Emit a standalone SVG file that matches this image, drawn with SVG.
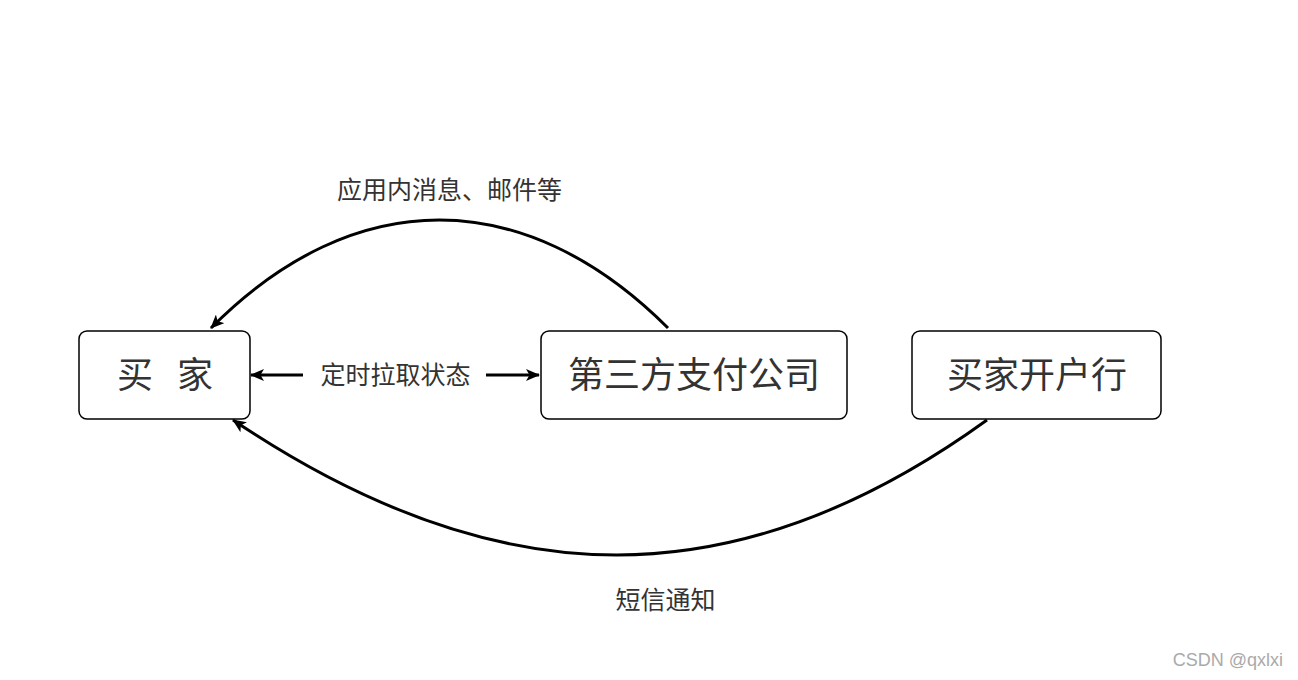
<svg xmlns="http://www.w3.org/2000/svg" width="1298" height="680" viewBox="0 0 1298 680">
<defs>
<style>
.box{fill:#fff;stroke:#000;stroke-width:1.5}
.big{font-family:"Noto Sans CJK SC","Noto Sans",sans-serif;font-size:36px;fill:#333;text-anchor:middle;dominant-baseline:central}
.lbl{font-family:"Noto Sans CJK SC","Noto Sans",sans-serif;font-size:25px;fill:#333;text-anchor:middle;dominant-baseline:central}
.edge{fill:none;stroke:#000;stroke-width:3}
.wm{font-family:"Liberation Sans",Arial,sans-serif;font-size:18px;fill:#aaa;text-anchor:end}
</style>
<marker id="ah" viewBox="0 0 14 12" refX="13" refY="6" markerWidth="14" markerHeight="12" markerUnits="userSpaceOnUse" orient="auto">
<path d="M0,0 L14,6 L0,12 L3.5,6 Z" fill="#000"/>
</marker>
</defs>
<rect width="1298" height="680" fill="#fff"/>
<g id="connectors">
<path class="edge" d="M668,328 C524,184 354,184 211,328" marker-end="url(#ah)"/>
<path class="edge" d="M987,420 C738,600 500,600 233,420" marker-end="url(#ah)"/>
<path class="edge" d="M303,375 L251,375" marker-end="url(#ah)"/>
<path class="edge" d="M486,375 L539,375" marker-end="url(#ah)"/>
<text class="lbl" x="449.5" y="187.5">应用内消息、邮件等</text>
<text class="lbl" x="395.5" y="372.5">定时拉取状态</text>
<text class="lbl" x="665.5" y="597.5">短信通知</text>
</g>
<g id="buyer">
<rect class="box" x="79" y="331" width="171" height="88" rx="8"/>
<text class="big" x="165" y="372" xml:space="preserve" word-spacing="16">买 家</text>
</g>
<g id="third-party">
<rect class="box" x="541" y="331" width="306" height="88" rx="8"/>
<text class="big" x="694" y="372">第三方支付公司</text>
</g>
<g id="bank">
<rect class="box" x="912" y="331" width="249" height="88" rx="8"/>
<text class="big" x="1037" y="372">买家开户行</text>
</g>
<text class="wm" x="1283" y="666">CSDN @qxlxi</text>
</svg>
